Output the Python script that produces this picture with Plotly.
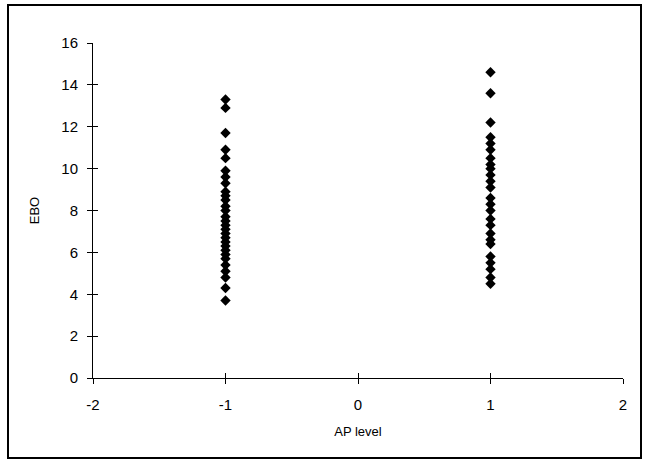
import plotly.graph_objects as go

# AP level = -1 group
ebo_low = [13.3, 12.9, 11.7, 10.9, 10.5, 9.9, 9.6, 9.3, 8.9, 8.7, 8.5, 8.2, 8.0,
           7.7, 7.5, 7.3, 7.1, 6.9, 6.7, 6.5, 6.3, 6.1, 5.9, 5.7, 5.4, 5.1, 4.8,
           4.3, 3.7]
# AP level = +1 group
ebo_high = [14.6, 13.6, 12.2, 11.5, 11.2, 10.9, 10.5, 10.2, 10.0, 9.7, 9.4, 9.1,
            8.6, 8.3, 8.0, 7.6, 7.3, 6.9, 6.6, 6.4, 5.8, 5.5, 5.2, 4.8, 4.5]

x_vals = [-1] * len(ebo_low) + [1] * len(ebo_high)
y_vals = ebo_low + ebo_high

x_ticks = [-2, -1, 0, 1, 2]
x_ticktext = ["-2", "-1", "0", "1", "2"]
y_ticks = [0, 2, 4, 6, 8, 10, 12, 14, 16]

fig = go.Figure(go.Scatter(
    x=x_vals, y=y_vals, mode="markers",
    marker=dict(symbol="diamond", size=8, color="black"),
    showlegend=False, hoverinfo="skip",
))

font = dict(family="Liberation Sans, Arial, sans-serif", size=15, color="black")
tfont = dict(family="Liberation Sans, Arial, sans-serif", size=13, color="black")

fig.update_layout(
    width=649, height=465,
    margin=dict(l=93, r=26, t=43, b=87),
    paper_bgcolor="white", plot_bgcolor="white",
    font=font,
    xaxis=dict(range=[-2, 2], tickvals=x_ticks, ticktext=x_ticktext,
               showgrid=False, zeroline=False,
               showline=True, linecolor="black", linewidth=1,
               ticks="outside", ticklen=5, tickcolor="black",
               ticklabelstandoff=8,
               title=dict(text="AP level", font=tfont, standoff=14)),
    yaxis=dict(range=[0, 16], tickvals=y_ticks, showgrid=False, zeroline=False,
               showline=True, linecolor="black", linewidth=1,
               ticks="outside", ticklen=5, tickcolor="black",
               ticklabelstandoff=6,
               title=dict(text="EBO", font=tfont, standoff=18)),
    xaxis2=dict(range=[-2, 2], tickvals=x_ticks, overlaying="x", side="bottom",
                anchor="y2", showgrid=False, zeroline=False, showline=False,
                showticklabels=False, ticks="inside", ticklen=5, tickcolor="black"),
    yaxis2=dict(range=[0, 16], tickvals=y_ticks, overlaying="y", side="left",
                anchor="x2", showgrid=False, zeroline=False, showline=False,
                showticklabels=False, ticks="inside", ticklen=5, tickcolor="black"),
    shapes=[dict(type="rect", xref="paper", yref="paper",
                 x0=(8 - 93) / 530, x1=(641 - 93) / 530,
                 y0=(378 - 458) / 335, y1=(378 - 5) / 335,
                 line=dict(color="black", width=2))],
)

# transparent copy of the data on the overlay axes (gives crossing tick marks)
fig.add_trace(go.Scatter(x=x_vals, y=y_vals, xaxis="x2", yaxis="y2",
                         mode="markers", marker=dict(opacity=0),
                         showlegend=False, hoverinfo="skip"))

fig.write_html("out.html", config={"displayModeBar": False},
               post_script="document.body.style.margin='0';")
